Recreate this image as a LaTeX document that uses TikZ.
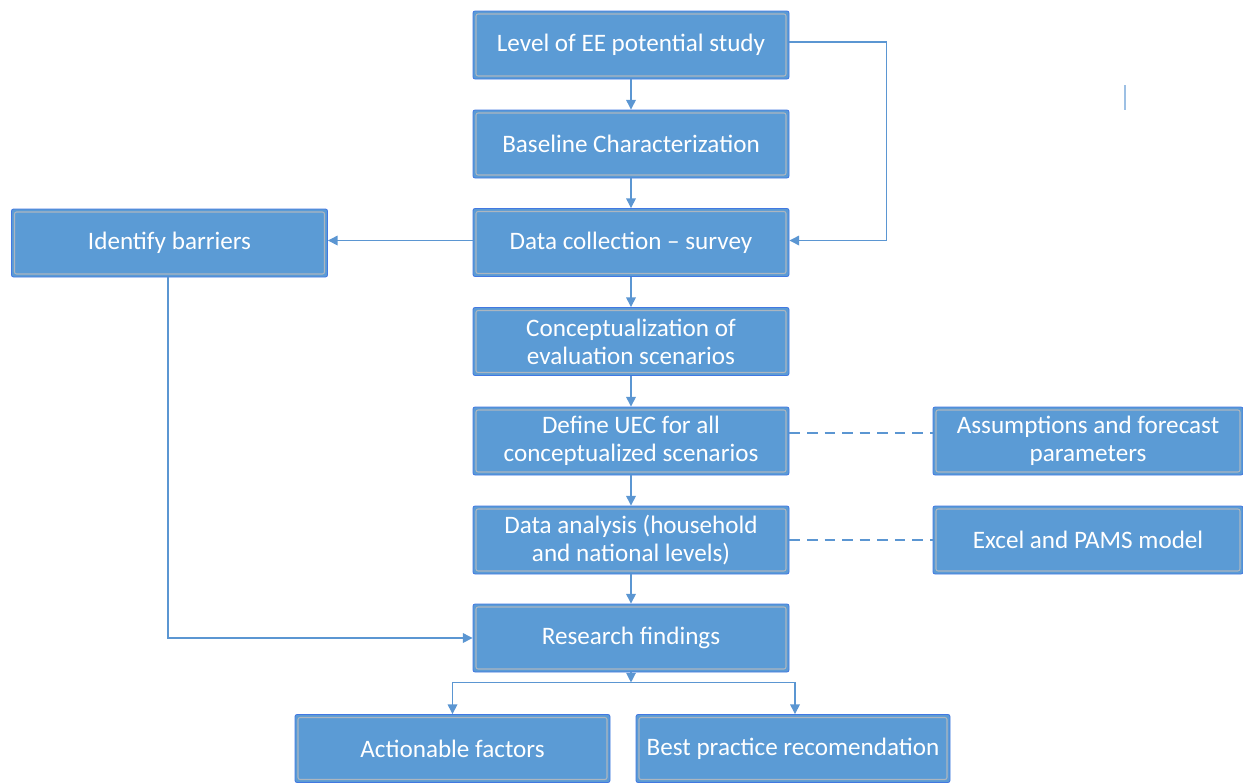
\documentclass[tikz,border=0pt]{standalone}
\usepackage{fontspec}
\setmainfont{Carlito}
\usetikzlibrary{arrows.meta}

\definecolor{boxblue}{RGB}{91,155,213}
\definecolor{boxedge}{RGB}{66,120,225}
\definecolor{inline}{RGB}{172,182,192}
\definecolor{flowblue}{RGB}{91,150,210}

\begin{document}
\begin{tikzpicture}[
        % 方框样式
        stagebox/.style={rectangle, rounded corners=1.2pt, fill=boxblue, draw=boxedge, line width=0.5pt,
            minimum width=6.32cm, minimum height=1.36cm, inner sep=0pt, text=white, align=center,
            font=\fontsize{14.3}{16}\selectfont,
            path picture={\draw[inline, line width=0.6pt] ([shift={(0.06,0.06)}]path picture bounding box.south west) rectangle ([shift={(-0.06,-0.06)}]path picture bounding box.north east);}},
        sidebox/.style={stagebox, minimum width=6.2cm},
        % 连线样式
        flow/.style={-{Triangle[length=5.5pt,width=5.5pt]}, line width=0.7pt, flowblue},
        link/.style={dashed, dash pattern=on 6pt off 4pt, line width=0.7pt, flowblue}
    ]

    % --- 参数定义 ---
    \def\midX{12.62}   % 主列中心
    \def\sideX{21.76}  % 右侧列中心

    \useasboundingbox (0,0) rectangle (24.86,-15.64);

    % --- 1. 主流程 ---
    \node[stagebox] (lvl) at (\midX,-0.90) {Level of EE potential study};
    \node[stagebox] (base) at (\midX,-2.88) {Baseline Characterization};
    \node[stagebox] (collect) at (\midX,-4.85) {Data collection -- survey};
    \node[stagebox] (concept) at (\midX,-6.83) {Conceptualization of\\evaluation scenarios};
    \node[stagebox] (uec) at (\midX,-8.82) {Define UEC for all\\conceptualized scenarios};
    \node[stagebox] (analysis) at (\midX,-10.80) {Data analysis (household\\and national levels)};
    \node[stagebox] (findings) at (\midX,-12.76) {Research findings};

    % --- 2. 侧边方框 ---
    \node[stagebox] (barriers) at (3.39,-4.86) {Identify barriers};
    \node[sidebox] (assume) at (\sideX,-8.82) {Assumptions and forecast\\parameters};
    \node[sidebox] (excel) at (\sideX,-10.80) {Excel and PAMS model};

    % --- 3. 结果 ---
    \node[stagebox, minimum width=6.3cm] (action) at (9.05,-14.97) {Actionable factors};
    \node[stagebox, minimum width=6.28cm] (practice) at (15.86,-14.97) {Best practice recomendation};

    % --- 4. 连线 ---
    \foreach \a/\b in {lvl/base, base/collect, collect/concept, concept/uec, uec/analysis, analysis/findings} {
        \draw[flow] (\a) -- (\b);
    }
    \draw[flow] ([yshift=0.06cm]lvl.east) -- ++(1.94,0) |- ([yshift=0.04cm]collect.east);
    \draw[flow] ([yshift=0.04cm]collect.west) -- ([yshift=0.04cm]collect.west -| barriers.east);
    \draw[flow] ([xshift=-0.03cm]barriers.south) |- (findings.west);

    \draw[link] ([yshift=0.16cm]uec.east) -- ([yshift=0.16cm]assume.west);
    \draw[link] (analysis.east) -- (excel.west);

    \draw[flow] (findings.south) -- ++(0,-0.2) coordinate (split);
    \draw[flow] (split) -| (action.north);
    \draw[flow] (split) -| ([xshift=0.04cm]practice.north);

    % 右上角小竖线
    \draw[flowblue!60, line width=0.6pt] (22.5,-1.70) -- (22.5,-2.20);

\end{tikzpicture}
\end{document}
